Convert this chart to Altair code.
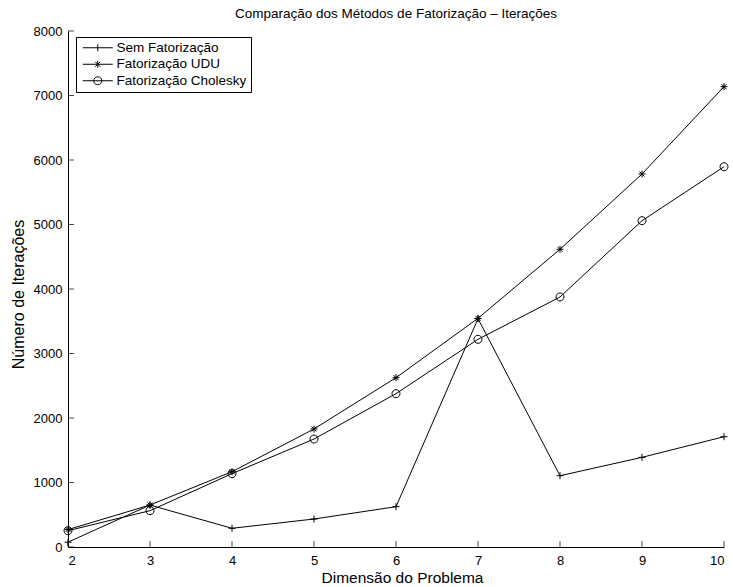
import altair as alt
import pandas as pd

# Problem dimension (x) and iteration counts for each factorization method
dimensao = [2, 3, 4, 5, 6, 7, 8, 9, 10]
sem_fatorizacao = [75, 650, 290, 434, 625, 3540, 1105, 1390, 1710]
fatorizacao_udu = [270, 651, 1167, 1830, 2625, 3545, 4616, 5783, 7137]
fatorizacao_cholesky = [253, 563, 1137, 1674, 2377, 3220, 3876, 5059, 5896]

series = ["Sem Fatorização", "Fatorização UDU", "Fatorização Cholesky"]
x_ticks = [2, 3, 4, 5, 6, 7, 8, 9, 10]
y_ticks = [0, 1000, 2000, 3000, 4000, 5000, 6000, 7000, 8000]

FONT = "Liberation Sans"
W, H = 656, 516

rows = []
for nome, valores in zip(series, [sem_fatorizacao, fatorizacao_udu, fatorizacao_cholesky]):
    for d, v in zip(dimensao, valores):
        rows.append({"dimensao": d, "iteracoes": v, "serie": nome})
df = pd.DataFrame(rows)

# Marker outlines: thin plus, asterisk, open circle
marker_paths = [
    "M-0.875,0H0.875M0,-0.875V0.875",
    "M-0.875,0H0.875M0,-0.875V0.875M-0.62,-0.62L0.62,0.62M-0.62,0.62L0.62,-0.62",
    "M-1,0A1,1 0 1,0 1,0A1,1 0 1,0 -1,0",
]
# Legend samples: a short line segment with the marker in its middle
legend_paths = [
    "M-1,0H6.5M2.75,-0.875V0.875",
    "M-1,0H6.5M2.75,-0.875V0.875M2.13,-0.62L3.37,0.62M2.13,0.62L3.37,-0.62",
    "M-1,0H6.5M1.75,0A1,1 0 1,0 3.75,0A1,1 0 1,0 1.75,0",
]

x_enc = alt.X(
    "dimensao:Q",
    scale=alt.Scale(domain=[2, 10], nice=False, zero=False),
    axis=alt.Axis(values=x_ticks, format="d", title="Dimensão do Problema",
                  tickSize=0, labelPadding=7, titlePadding=3, grid=False,
                  titleFontSize=15.5, titleX=334),
)
y_enc = alt.Y(
    "iteracoes:Q",
    scale=alt.Scale(domain=[0, 8000], nice=False),
    axis=alt.Axis(values=y_ticks, format="d", title="Número de Iterações",
                  tickSize=0, labelPadding=6, titlePadding=7, grid=False,
                  titleFontSize=16, titleY=263),
)

base = alt.Chart(df)

lines = base.mark_line(color="black", strokeWidth=1).encode(
    x=x_enc, y=y_enc, detail="serie:N", order="dimensao:Q"
)

points = base.mark_point(filled=False, color="black", strokeWidth=1, opacity=1, size=64).encode(
    x=x_enc,
    y=y_enc,
    shape=alt.Shape("serie:N", scale=alt.Scale(domain=series, range=marker_paths), legend=None),
)

legend_layer = base.transform_filter("false").mark_point(
    filled=False, color="black", strokeWidth=1, opacity=1, size=64
).encode(
    x=x_enc,
    y=y_enc,
    shape=alt.Shape(
        "serie:N",
        scale=alt.Scale(domain=series, range=legend_paths),
        legend=alt.Legend(
            title=None, orient="none", legendX=8, legendY=6,
            symbolSize=64, symbolStrokeWidth=1, symbolStrokeColor="black",
            symbolFillColor="transparent",
            labelFont=FONT, labelFontSize=13.5, labelColor="black", labelOffset=23,
            strokeColor="black", fillColor="white", padding=4, rowPadding=1.5,
            cornerRadius=0,
        ),
    ),
)

# Inward-pointing tick marks along both axes
x_tick_marks = alt.Chart(pd.DataFrame({"dimensao": x_ticks})).mark_tick(
    orient="vertical", color="black", size=6, thickness=1, yOffset=-3
).encode(x=x_enc, y=alt.datum(0))

y_tick_marks = alt.Chart(pd.DataFrame({"iteracoes": y_ticks})).mark_tick(
    orient="horizontal", color="black", size=6, thickness=1, xOffset=3
).encode(x=alt.datum(2), y=y_enc)

chart = (
    alt.layer(lines, points, legend_layer, x_tick_marks, y_tick_marks)
    .resolve_scale(shape="independent")
    .properties(
        width=W,
        height=H,
        autosize=alt.AutoSizeParams(type="none"),
        padding={"left": 68, "top": 31, "right": 9, "bottom": 40},
        title=alt.TitleParams(
            "Comparação dos Métodos de Fatorização – Iterações",
            font=FONT, fontSize=13.5, fontWeight="normal", color="black",
            anchor="middle", frame="group", offset=5,
        ),
        background="white",
    )
    .configure_view(strokeWidth=0)
    .configure_axis(
        domainColor="black", domainWidth=1,
        labelFont=FONT, labelFontSize=13, labelColor="black",
        titleFont=FONT, titleFontWeight="normal", titleColor="black",
    )
)

chart.save("out.html", embed_options={"renderer": "svg", "actions": False})
